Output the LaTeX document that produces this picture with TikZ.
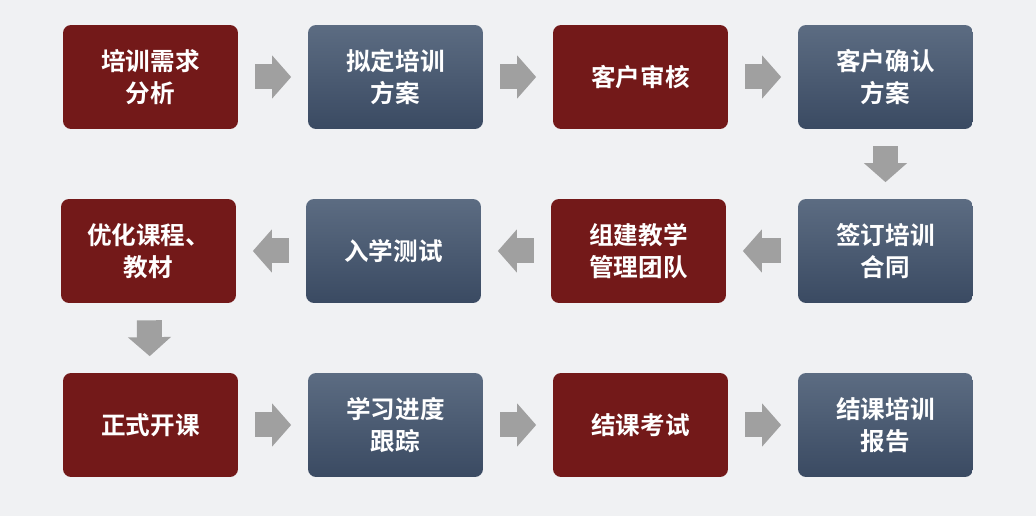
\documentclass[tikz,border=0pt]{standalone}
\usepackage{fontspec}
\setmainfont{Noto Sans CJK SC Bold}
\usetikzlibrary{arrows.meta}
\definecolor{bgray}{RGB}{240,241,243}
\definecolor{wine}{RGB}{115,25,25}
\definecolor{slatetop}{RGB}{92,108,130}
\definecolor{slatebot}{RGB}{58,74,98}
\definecolor{arrowgray}{RGB}{160,160,160}
\tikzset{
  redbox/.style={fill=wine, rounded corners=0.16cm, minimum width=3.5cm, minimum height=2.08cm,
    text=white, align=center, font=\fontsize{14}{18}\selectfont},
  bluebox/.style={redbox, fill=none, top color=slatetop, bottom color=slatebot},
  flow/.style={arrowgray, line width=0.5cm, shorten <=0.34cm, shorten >=0.33cm,
    -{Triangle[width=0.84cm,length=0.38cm]}}
}
\begin{document}
\begin{tikzpicture}[x=0.02cm,y=-0.02cm]
\fill [bgray] (0,0) rectangle (1036,516);
% first row
\node [redbox]  (a1) at (150.5,77) {培训需求\\分析};
\node [bluebox] (a2) at (395.5,77) {拟定培训\\方案};
\node [redbox]  (a3) at (640.5,77) {客户审核};
\node [bluebox] (a4) at (885.5,77) {客户确认\\方案};
% second row
\node [bluebox] (b4) at (885.5,251) {签订培训\\合同};
\node [redbox]  (b3) at (638.5,251) {组建教学\\管理团队};
\node [bluebox] (b2) at (393.5,251) {入学测试};
\node [redbox]  (b1) at (148.5,251) {优化课程、\\教材};
% third row
\node [redbox]  (c1) at (150.5,425) {正式开课};
\node [bluebox] (c2) at (395.5,425) {学习进度\\跟踪};
\node [redbox]  (c3) at (640.5,425) {结课考试};
\node [bluebox] (c4) at (885.5,425) {结课培训\\报告};
% arrows
\draw [flow] (a1) -- (a2);
\draw [flow] (a2) -- (a3);
\draw [flow] (a3) -- (a4);
\draw [flow] (a4) -- (b4);
\draw [flow] (b4) -- (b3);
\draw [flow] (b3) -- (b2);
\draw [flow] (b2) -- (b1);
\draw [flow] (b1) -- (c1);
\draw [flow] (c1) -- (c2);
\draw [flow] (c2) -- (c3);
\draw [flow] (c3) -- (c4);
\end{tikzpicture}
\end{document}
